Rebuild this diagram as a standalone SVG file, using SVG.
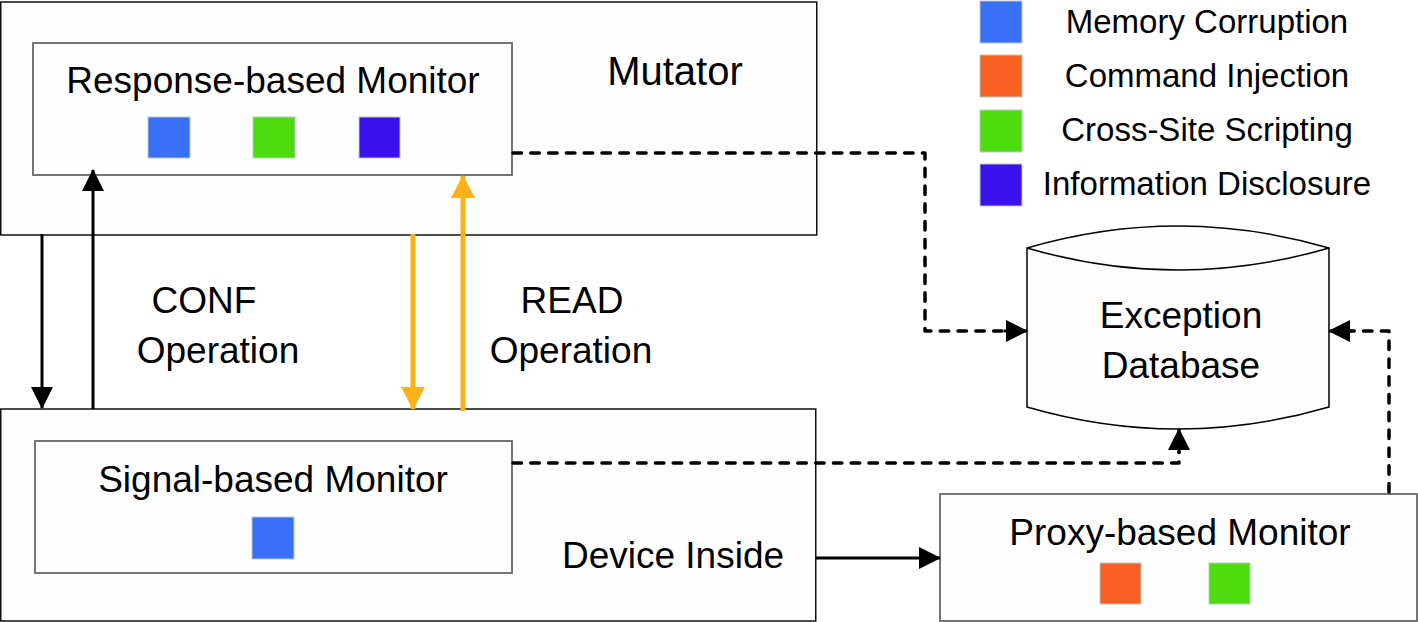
<svg xmlns="http://www.w3.org/2000/svg" width="1418" height="622" viewBox="0 0 1418 622">
<style>
.outer{fill:#fefefe;stroke:#111;stroke-width:1.5}
.inner{fill:#fefefe;stroke:#666;stroke-width:1.8}
.t{font-family:"Liberation Sans",Arial,sans-serif;font-size:37px;fill:#000;text-anchor:middle}
.lg{font-family:"Liberation Sans",Arial,sans-serif;font-size:33px;fill:#000;text-anchor:middle}
.sq{stroke:#b8c8c8;stroke-width:1}
.blue{fill:#3a70f8}
.green{fill:#4ddc0e}
.purple{fill:#3a12ee}
.orange{fill:#fa6022}
.solid{fill:none;stroke:#000;stroke-width:3}
.gold{fill:none;stroke:#fbb21a;stroke-width:5}
.dash{fill:none;stroke:#000;stroke-width:3.5;stroke-dasharray:8.5 9.3;stroke-linecap:round;stroke-linejoin:round}
</style>
<defs>
<marker id="ah" markerUnits="userSpaceOnUse" markerWidth="22" markerHeight="22" refX="21" refY="11" orient="auto">
<path d="M0,0 L22,11 L0,22 z" fill="#000"/>
</marker>
<marker id="ahg" markerUnits="userSpaceOnUse" markerWidth="24" markerHeight="24" refX="22" refY="12" orient="auto">
<path d="M0,0 L23,12 L0,24 z" fill="#fbb21a"/>
</marker>
</defs>

<g id="legend">
<rect class="sq blue" x="980" y="1" width="42" height="42"/>
<text class="lg" x="1207" y="33">Memory Corruption</text>
<rect class="sq orange" x="980" y="55" width="42" height="42"/>
<text class="lg" x="1207" y="87">Command Injection</text>
<rect class="sq green" x="980" y="110" width="42" height="42"/>
<text class="lg" x="1207" y="141">Cross-Site Scripting</text>
<rect class="sq purple" x="980" y="164" width="42" height="42"/>
<text class="lg" x="1207" y="195">Information Disclosure</text>
</g>

<g id="mutator">
<rect class="outer" x="0.75" y="2" width="816" height="233"/>
<text class="t" x="675" y="85" style="font-size:40px">Mutator</text>
</g>

<g id="response-monitor">
<rect class="inner" x="33" y="43" width="479" height="132"/>
<text class="t" x="273" y="93">Response-based Monitor</text>
<rect class="sq blue" x="148" y="117" width="42" height="41"/>
<rect class="sq green" x="253" y="117" width="42" height="41"/>
<rect class="sq purple" x="359" y="117" width="41" height="41"/>
</g>

<g id="device-inside">
<rect class="outer" x="0.75" y="409" width="815" height="212"/>
<text class="t" x="673" y="568">Device Inside</text>
</g>

<g id="signal-monitor">
<rect class="inner" x="35" y="441" width="477" height="132"/>
<text class="t" x="273" y="492">Signal-based Monitor</text>
<rect class="sq blue" x="252" y="517" width="42" height="42"/>
</g>

<g id="proxy-monitor">
<rect class="inner" x="940" y="494" width="477" height="127"/>
<text class="t" x="1180" y="545">Proxy-based Monitor</text>
<rect class="sq orange" x="1100" y="563" width="41" height="41"/>
<rect class="sq green" x="1209" y="563" width="41" height="41"/>
</g>

<g id="exception-db">
<path d="M1027,248 Q1178,204 1329,248 L1329,407 Q1178,451 1027,407 Z" fill="#fefefe" stroke="#000" stroke-width="1.5"/>
<path d="M1027,248 Q1178,292 1329,248" fill="none" stroke="#000" stroke-width="1.5"/>
<text class="t" x="1181" y="328">Exception</text>
<text class="t" x="1181" y="378">Database</text>
</g>

<g id="labels">
<text class="t" x="204" y="313">CONF</text>
<text class="t" x="218" y="363">Operation</text>
<text class="t" x="572" y="313">READ</text>
<text class="t" x="571" y="363">Operation</text>
</g>

<g id="connectors">
<line class="solid" x1="42" y1="234" x2="42" y2="408" marker-end="url(#ah)"/>
<line class="solid" x1="93" y1="409" x2="93" y2="170" marker-end="url(#ah)"/>
<line class="gold" x1="413" y1="234" x2="413" y2="409" marker-end="url(#ahg)"/>
<line class="gold" x1="463" y1="411" x2="463" y2="176" marker-end="url(#ahg)"/>
<line class="solid" x1="816" y1="558" x2="940" y2="558" marker-end="url(#ah)"/>
<path class="dash" d="M513,153 H925 V331 H1008"/>
<line class="solid" x1="1004" y1="331" x2="1027" y2="331" marker-end="url(#ah)"/>
<path class="dash" d="M513,463 H1179 V452"/>
<line class="solid" x1="1179" y1="453" x2="1179" y2="429" marker-end="url(#ah)"/>
<path class="dash" d="M1389,492 V331 H1350"/>
<line class="solid" x1="1352" y1="331" x2="1329" y2="331" marker-end="url(#ah)"/>
</g>
</svg>
